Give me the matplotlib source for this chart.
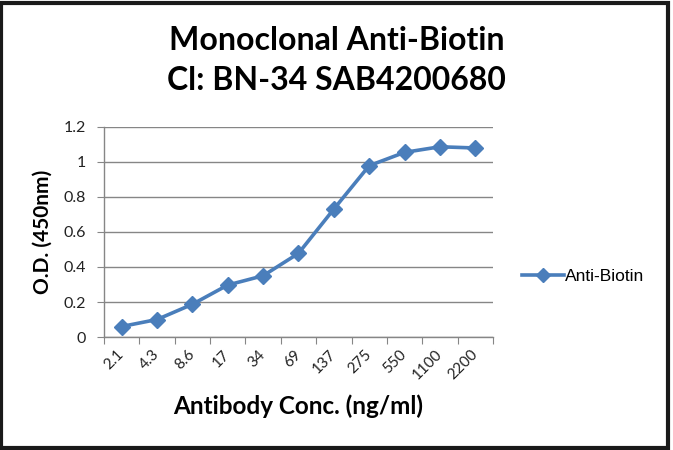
import numpy as np
import matplotlib.pyplot as plt
from matplotlib.patches import Rectangle

# data
conc_labels = ['2.1', '4.3', '8.6', '17', '34', '69', '137', '275', '550', '1100', '2200']
od_450 = [0.06, 0.10, 0.187, 0.297, 0.35, 0.478, 0.731, 0.979, 1.055, 1.087, 1.08]
yticks = [0, 0.2, 0.4, 0.6, 0.8, 1, 1.2]
ytick_labels = ['0', '0.2', '0.4', '0.6', '0.8', '1', '1.2']

blue = '#4A7EBB'
grid_col = '#868686'

fig = plt.figure(figsize=(6.73, 4.5), dpi=100)
ax = fig.add_axes([0.1545, 0.2511, 0.578, 0.4667])

x = np.arange(len(conc_labels))
ax.plot(x, od_450, color=blue, lw=2.6, marker='D', ms=8, label='Anti-Biotin')

ax.set_xlim(-0.5, len(conc_labels) - 0.5)
ax.set_ylim(0, 1.2)
ax.set_yticks(yticks)
ax.set_yticklabels(ytick_labels, fontsize=11.5, color='#222222', family='Lato')
ax.yaxis.grid(True, color=grid_col, lw=1)
ax.set_axisbelow(True)

# excel-style category axis: ticks between categories, labels centred
ax.set_xticks(np.arange(-0.5, len(conc_labels), 1.0))
ax.set_xticklabels([])
ax.set_xticks(x, minor=True)
ax.set_xticklabels(conc_labels, minor=True, rotation=45, fontsize=11, color='#222222',
                   family='Lato', ha='right', va='center', rotation_mode='anchor')
ax.tick_params(axis='x', which='minor', length=0, pad=11)
ax.tick_params(axis='x', which='major', length=5, color=grid_col, direction='out')
ax.tick_params(axis='y', length=5, color=grid_col, direction='out', pad=8)

for s in ['top', 'right']:
    ax.spines[s].set_visible(False)
for s in ['left', 'bottom']:
    ax.spines[s].set_color(grid_col)
    ax.spines[s].set_linewidth(1)

ax.set_ylabel('O.D. (450nm)', fontsize=15, fontweight='bold', family='Lato', labelpad=8)
ax.set_xlabel('Antibody Conc. (ng/ml)', fontsize=17.5, fontweight='bold', family='Lato', labelpad=9)

fig.text(0.5, 0.911, 'Monoclonal Anti-Biotin', ha='center', va='center',
         fontsize=23, fontweight='bold', family='Lato')
fig.text(0.5, 0.82, 'Cl: BN-34 SAB4200680', ha='center', va='center',
         fontsize=23, fontweight='bold', family='Lato')

ax.legend(loc='center left', bbox_to_anchor=(1.035, 0.29), frameon=False,
          prop={'family': 'Liberation Sans', 'size': 12.5}, handlelength=2.4,
          handletextpad=0.05, markerscale=0.9)

# dark frame around the picture
fig.patches.append(Rectangle((0.002, 0.004), 0.991, 0.99, transform=fig.transFigure,
                             fill=False, edgecolor='#1a1a1a', lw=3))

fig.savefig('out.png', dpi=100)
